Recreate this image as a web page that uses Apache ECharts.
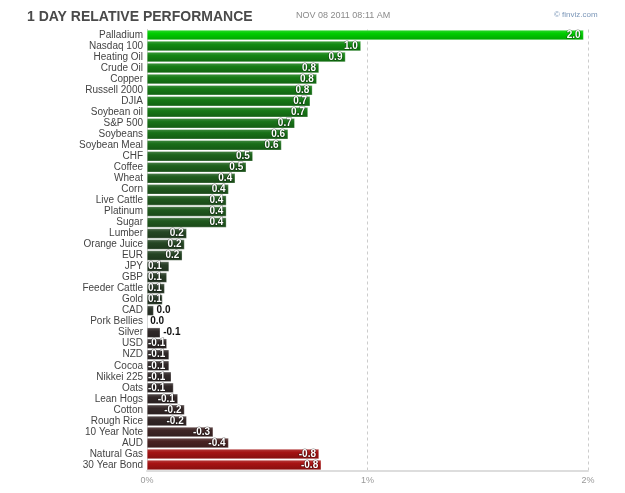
<!DOCTYPE html>
<html>
<head>
<meta charset="utf-8">
<script src="https://cdn.jsdelivr.net/npm/echarts@6/dist/echarts.min.js"></script>
<style>
html, body { margin: 0; padding: 0; background: #fff; }
#chart_1 { width: 625px; height: 493px; }
</style>
</head>
<body>
<div id="chart_1"></div>
<script>
// 1 day relative performance, in %
var names = ['Palladium', 'Nasdaq 100', 'Heating Oil', 'Crude Oil', 'Copper', 'Russell 2000', 'DJIA',
    'Soybean oil', 'S&P 500', 'Soybeans', 'Soybean Meal', 'CHF', 'Coffee', 'Wheat', 'Corn',
    'Live Cattle', 'Platinum', 'Sugar', 'Lumber', 'Orange Juice', 'EUR', 'JPY', 'GBP',
    'Feeder Cattle', 'Gold', 'CAD', 'Pork Bellies', 'Silver', 'USD', 'NZD', 'Cocoa',
    'Nikkei 225', 'Oats', 'Lean Hogs', 'Cotton', 'Rough Rice', '10 Year Note', 'AUD',
    'Natural Gas', '30 Year Bond'];
var perf = [1.98, 0.97, 0.90, 0.78, 0.77, 0.75, 0.74,
    0.73, 0.67, 0.64, 0.61, 0.48, 0.45, 0.40, 0.37,
    0.36, 0.36, 0.36, 0.18, 0.17, 0.16, 0.10, 0.09,
    0.08, 0.07, 0.03, 0.0, -0.06, -0.09, -0.10, -0.10,
    -0.11, -0.12, -0.14, -0.17, -0.18, -0.30, -0.37,
    -0.78, -0.79];
var xTicks = ['0%', '1%', '2%'];

function mix(a, b, t) {
    return [0, 1, 2].map(function (i) { return Math.round(a[i] + (b[i] - a[i]) * t); });
}
function rgb(c) { return 'rgb(' + c.join(',') + ')'; }

function barColor(v) {
    var c;
    if (v >= 0) {
        c = mix([44, 44, 42], [0, 206, 0], Math.pow(Math.min(v / 2, 1), 0.75));
    } else {
        c = mix([46, 40, 40], [170, 18, 18], Math.pow(Math.min(-v / 0.8, 1), 2));
    }
    return new echarts.graphic.LinearGradient(0, 0, 0, 1, [
        {offset: 0, color: rgb(mix(c, [255, 255, 255], 0.18))},
        {offset: 0.35, color: rgb(c)},
        {offset: 1, color: rgb(mix(c, [0, 0, 0], 0.2))}
    ]);
}

var barData = [];
for (var i = 0; i < perf.length; i++) {
    var v = perf[i];
    var a = Math.abs(v);
    var lbl = {};
    if (a < 0.065) {
        lbl = {position: 'right', distance: 3, color: '#111', textBorderWidth: 0};
    } else if (a < 0.13) {
        lbl = {position: 'insideLeft', distance: 1};
    }
    barData.push({
        value: a,
        realValue: v,
        itemStyle: {color: barColor(v), borderColor: 'rgba(255,255,255,0.6)', borderWidth: 0.5},
        label: lbl
    });
}

var myChart = echarts.init(document.getElementById('chart_1'));
var option = {
    animation: false,
    backgroundColor: '#fff',
    graphic: [
        {type: 'text', left: 27, top: 10, style: {text: '1 DAY RELATIVE PERFORMANCE', font: 'bold 14px "Liberation Sans", Arial', fill: '#4a4a4a'}},
        {type: 'text', left: 296, top: 11, style: {text: 'NOV 08 2011 08:11 AM', font: '9px "Liberation Sans", Arial', fill: '#8a8a8a'}},
        {type: 'text', left: 554, top: 11, style: {text: '\u00a9 finviz.com', font: '8px "Liberation Sans", Arial', fill: '#7a96b8'}}
    ],
    grid: {left: 147, right: 37, top: 29.5, bottom: 22.5},
    xAxis: {
        type: 'value',
        min: 0,
        max: 2,
        interval: 1,
        axisLine: {show: true, lineStyle: {color: '#ddd', width: 2}},
        axisTick: {show: false},
        axisLabel: {
            color: '#999', fontSize: 9, fontFamily: '"Liberation Sans", Arial', margin: 6,
            formatter: function (val) { return xTicks[Math.round(val)]; }
        },
        splitLine: {show: true, lineStyle: {color: '#ccc', type: [3, 3]}}
    },
    yAxis: {
        type: 'category',
        inverse: true,
        data: names,
        axisLine: {show: true, lineStyle: {color: '#ccc'}},
        axisTick: {show: false},
        axisLabel: {interval: 0, color: '#444', fontSize: 10, fontFamily: '"Liberation Sans", Arial', margin: 4}
    },
    series: [{
        type: 'bar',
        data: barData,
        barWidth: 10,
        label: {
            show: true,
            position: 'insideRight',
            distance: 3,
            color: '#fff',
            fontSize: 10,
            fontWeight: 'bold',
            fontFamily: '"Liberation Sans", Arial',
            textBorderColor: 'rgba(0,0,0,0.45)',
            textBorderWidth: 1.2,
            formatter: function (p) { return p.data.realValue.toFixed(1); }
        }
    }]
};
myChart.setOption(option);
</script>
</body>
</html>
